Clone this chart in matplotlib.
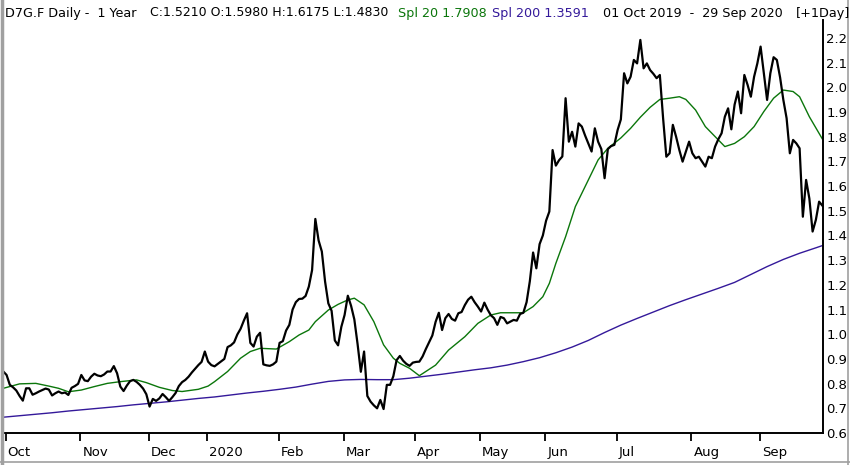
import numpy as np
import pandas as pd
import matplotlib
matplotlib.use("Agg")
import matplotlib.pyplot as plt
import matplotlib.transforms as mtrans
from matplotlib.lines import Line2D

# ---------------- data ----------------
holidays = ["2019-12-24", "2019-12-25", "2019-12-26", "2019-12-31",
            "2020-01-01", "2020-04-10", "2020-04-13", "2020-05-01"]
dates = pd.bdate_range("2019-10-01", "2020-09-29")
dates = dates[~dates.isin(pd.to_datetime(holidays))]

close = [
    0.849, 0.835, 0.795, 0.785, 0.772, 0.750, 0.731, 0.781, 0.781, 0.755,
    0.761, 0.768, 0.774, 0.780, 0.776, 0.752, 0.761, 0.768, 0.761, 0.764,
    0.754, 0.783, 0.790, 0.799, 0.835, 0.813, 0.810, 0.828, 0.840, 0.833,
    0.830, 0.837, 0.849, 0.849, 0.871, 0.842, 0.788, 0.770, 0.792, 0.810,
    0.815, 0.807, 0.795, 0.780, 0.757, 0.707, 0.738, 0.730, 0.740, 0.758,
    0.745, 0.730, 0.745, 0.762, 0.790, 0.806, 0.815, 0.828, 0.845, 0.860,
    0.875, 0.888, 0.930, 0.889, 0.875, 0.870, 0.880, 0.890, 0.900, 0.948,
    0.955, 0.967, 0.999, 1.022, 1.055, 1.085, 0.965, 0.950, 0.990, 1.006,
    0.878, 0.874, 0.872, 0.878, 0.889, 0.965, 0.972, 1.015, 1.038, 1.100,
    1.130, 1.143, 1.144, 1.155, 1.193, 1.260, 1.467, 1.380, 1.335, 1.213,
    1.125, 1.095, 0.975, 0.955, 1.030, 1.078, 1.156, 1.115, 1.060, 0.960,
    0.848, 0.930, 0.750, 0.727, 0.712, 0.700, 0.734, 0.697, 0.795, 0.795,
    0.830, 0.895, 0.912, 0.893, 0.880, 0.872, 0.885, 0.888, 0.889, 0.910,
    0.940, 0.968, 0.995, 1.050, 1.087, 1.017, 1.065, 1.082, 1.062, 1.055,
    1.085, 1.090, 1.118, 1.140, 1.152, 1.130, 1.112, 1.092, 1.128, 1.100,
    1.077, 1.065, 1.038, 1.070, 1.065, 1.044, 1.051, 1.058, 1.055, 1.082,
    1.087, 1.130, 1.215, 1.331, 1.267, 1.365, 1.400, 1.460, 1.497, 1.746,
    1.683, 1.705, 1.720, 1.956, 1.780, 1.820, 1.760, 1.854, 1.841, 1.805,
    1.772, 1.740, 1.834, 1.780, 1.750, 1.632, 1.750, 1.762, 1.767, 1.827,
    1.870, 2.057, 2.016, 2.043, 2.111, 2.097, 2.192, 2.077, 2.097, 2.070,
    2.055, 2.037, 2.050, 1.875, 1.719, 1.733, 1.848, 1.800, 1.746, 1.699,
    1.740, 1.780, 1.733, 1.713, 1.719, 1.699, 1.679, 1.719, 1.713, 1.760,
    1.790, 1.814, 1.881, 1.915, 1.830, 1.930, 1.983, 1.895, 2.050, 2.010,
    1.962, 2.043, 2.097, 2.165, 2.057, 1.949, 2.057, 2.122, 2.111, 2.040,
    1.949, 1.875, 1.733, 1.787, 1.773, 1.753, 1.476, 1.625, 1.550, 1.416,
    1.463, 1.537, 1.521,
]

# Spl 20 read at irregular trading-day positions
spl20_days = [0, 5, 10, 14, 17, 20, 24, 28, 32, 36, 41, 44, 48, 52, 55, 60,
              63, 65, 69, 73, 76, 79, 84, 88, 91, 94, 96, 100, 103, 106, 108,
              111, 114, 117, 120, 122, 125, 128, 133, 137, 142, 146, 150,
              153, 160, 163, 166, 168, 170, 173, 176, 180, 183, 186, 190,
              193, 196, 199, 202, 205, 208, 210, 213, 216, 220, 222, 225,
              228, 231, 234, 237, 240, 243, 245, 248, 252]
spl20 = [0.781, 0.799, 0.801, 0.790, 0.781, 0.767, 0.774, 0.788, 0.801,
         0.808, 0.815, 0.804, 0.785, 0.772, 0.768, 0.777, 0.790, 0.808,
         0.849, 0.903, 0.930, 0.943, 0.940, 0.970, 0.997, 1.017, 1.051,
         1.098, 1.121, 1.139, 1.146, 1.119, 1.051, 0.957, 0.903, 0.882,
         0.862, 0.832, 0.875, 0.936, 0.990, 1.044, 1.078, 1.087, 1.087,
         1.112, 1.152, 1.206, 1.287, 1.395, 1.517, 1.625, 1.706, 1.753,
         1.795, 1.834, 1.879, 1.919, 1.951, 1.956, 1.962, 1.951, 1.908,
         1.841, 1.787, 1.760, 1.773, 1.800, 1.841, 1.902, 1.956, 1.989,
         1.983, 1.962, 1.881, 1.791]

# Spl 200 read every 5 trading days (plus last day)
spl200_days = list(range(0, 251, 5)) + [252]
spl200 = [
    0.664, 0.670, 0.676, 0.682, 0.689, 0.695, 0.701, 0.707, 0.714, 0.720,
    0.726, 0.733, 0.740, 0.746, 0.754, 0.762, 0.769, 0.777, 0.786, 0.798,
    0.809, 0.815, 0.817, 0.816, 0.816, 0.822, 0.830, 0.838, 0.847, 0.856,
    0.864, 0.875, 0.889, 0.905, 0.925, 0.948, 0.975, 1.007, 1.037, 1.064,
    1.090, 1.116, 1.140, 1.163, 1.186, 1.210, 1.242, 1.274, 1.303, 1.328,
    1.350, 1.359,
]

month_labels = ["Oct", "Nov", "Dec", "2020", "Feb", "Mar", "Apr", "May",
                "Jun", "Jul", "Aug", "Sep"]
y_ticks = [0.6, 0.7, 0.8, 0.9, 1.0, 1.1, 1.2, 1.3, 1.4, 1.5, 1.6,
           1.7, 1.8, 1.9, 2.0, 2.1, 2.2]

# ---------------- figure ----------------
W, H = 850, 465
fig = plt.figure(figsize=(W / 100, H / 100), dpi=100)
fig.patch.set_facecolor("white")

left_px, right_px, top_px, bot_px = 3, 823, 20, 433
ax = fig.add_axes([left_px / W, 1 - bot_px / H,
                   (right_px - left_px) / W, (bot_px - top_px) / H])

idx = np.arange(len(close))
GREEN = "#0b760b"
PURPLE = "#34199a"

ax.plot(spl200_days, spl200, color=PURPLE, lw=1.0, zorder=2)
ax.plot(spl20_days, spl20, color=GREEN, lw=1.0, zorder=2)
ax.plot(idx, close, color="black", lw=1.6, zorder=3)

ax.set_xlim(-0.1, 252.2)
ax.set_ylim(0.6, 0.6 + (bot_px - top_px) / 246.9)

for s in ["top", "left"]:
    ax.spines[s].set_visible(False)
for s in ["right", "bottom"]:
    ax.spines[s].set_color("black")
    ax.spines[s].set_linewidth(1.4)

# y axis on the right
ax.yaxis.tick_right()
ax.set_yticks(y_ticks)
ax.set_yticklabels([f"{v:.1f}" for v in y_ticks])
ax.tick_params(axis="y", length=0, pad=2.5, labelsize=9.5, labelcolor="black")

# month ticks at first trading day of each month
months = pd.Series(np.arange(len(dates)), index=dates)
first_idx = months.groupby([dates.year, dates.month]).min().values
tick_pos = [p + 0.7 for p in first_idx]
ax.set_xticks(tick_pos)
ax.set_xticklabels(month_labels, ha="left")
ax.tick_params(axis="x", length=5.5, width=1.3, direction="out",
               pad=4, labelsize=9.5, color="black")
offset = mtrans.ScaledTranslation(1.5 / 72, 0, fig.dpi_scale_trans)
for lab in ax.get_xticklabels():
    lab.set_transform(lab.get_transform() + offset)

# header
hy = 1 - 13 / H
fs = 9.2
fig.text(5 / W, hy, "D7G.F Daily -  1 Year", fontsize=fs, va="center", color="black")
fig.text(150 / W, hy, "C:1.5210 O:1.5980 H:1.6175 L:1.4830", fontsize=9.0, va="center", color="black")
fig.text(398 / W, hy, "Spl 20 1.7908", fontsize=fs, va="center", color=GREEN)
fig.text(492 / W, hy, "Spl 200 1.3591", fontsize=fs, va="center", color=PURPLE)
fig.text(603 / W, hy, "01 Oct 2019  -  29 Sep 2020", fontsize=fs, va="center", color="black")
fig.text(796 / W, hy, "[+1Day]", fontsize=fs, va="center", color="black")

# outer grey frame
gc = "#a0a0a0"
fig.add_artist(Line2D([1.5 / W, 1.5 / W], [0, 1], color=gc, lw=2.5))
fig.add_artist(Line2D([0, 1], [1 - 462 / H, 1 - 462 / H], color=gc, lw=1.2))
fig.add_artist(Line2D([848 / W, 848 / W], [0, 1], color=gc, lw=1.2))

fig.savefig("out.png", dpi=100)
